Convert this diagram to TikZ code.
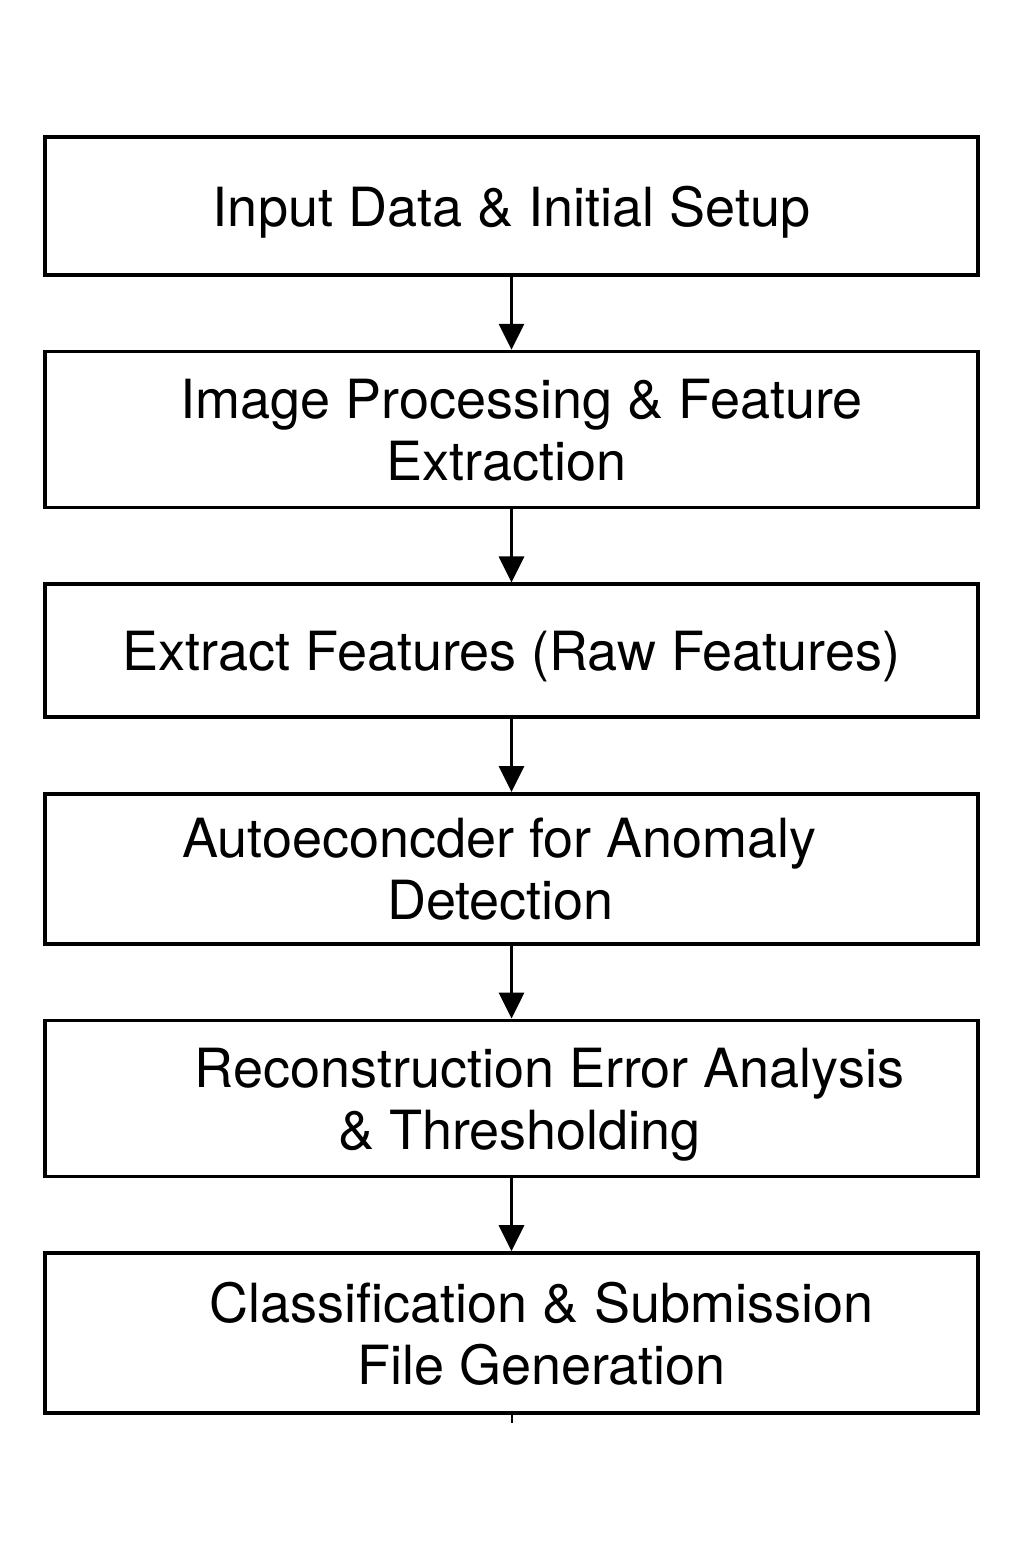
\documentclass[tikz,border=0pt]{standalone}
\usepackage{fontspec}
\setmainfont{TeX Gyre Heros}
\usepackage{tikz}
\usetikzlibrary{arrows.meta,positioning}

\begin{document}
\begin{tikzpicture}[
  stagebox/.style={draw, line width=1.8pt, minimum width=466.5pt, align=center, inner sep=0pt,
    text depth=0pt, font=\fontsize{27}{31}\selectfont},
  flow/.style={-{Triangle[width=12.5pt,length=13pt]}, line width=1.6pt},
  node distance=36.5pt]
\useasboundingbox (0,0) rectangle (512pt,-775pt);
\node[stagebox, minimum height=69pt] (input) at (255.75pt,-103pt) {Input Data \& Initial Setup};
\node[stagebox, minimum height=78pt, below=of input] (imgproc) {\hspace*{10pt}Image Processing \& Feature\\Extraction\hspace*{5pt}};
\node[stagebox, minimum height=66.5pt, below=of imgproc] (rawfeat) {Extract Features (Raw Features)};
\node[stagebox, minimum height=75pt, below=of rawfeat] (autoenc) {Autoeconcder for Anomaly\hspace*{12pt}\\Detection\hspace*{11pt}};
\node[stagebox, minimum height=78pt, below=of autoenc] (recon) {\hspace*{38pt}Reconstruction Error Analysis\\\hspace*{8pt}\& Thresholding};
\node[stagebox, minimum height=80pt, below=of recon] (submit) {\hspace*{30pt}Classification \& Submission\\\hspace*{30pt}File Generation};
\coordinate (stub) at ([yshift=-4pt]submit.south);
% arrows between stages
\draw[flow] (input) -- (imgproc);
\draw[flow] (imgproc) -- (rawfeat);
\draw[flow] (rawfeat) -- (autoenc);
\draw[flow] (autoenc) -- (recon);
\draw[flow] (recon) -- (submit);
\draw[line width=1pt] (submit.south) -- (stub);
\end{tikzpicture}
\end{document}
